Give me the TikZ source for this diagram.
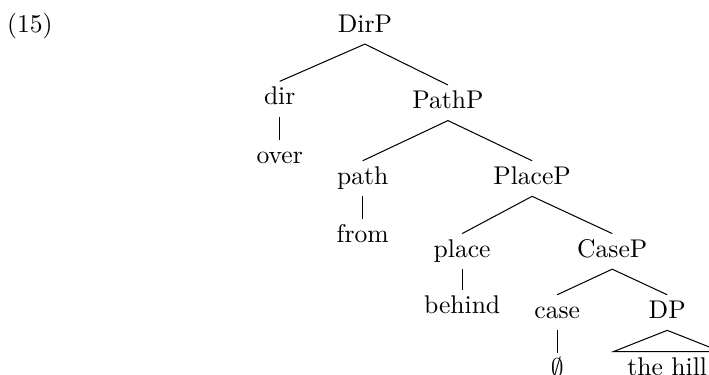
\documentclass[tikz,border=0pt]{standalone}
\usepackage{amsmath,amssymb}
\usepackage{tikz}
\usetikzlibrary{calc}

\begin{document}
\begin{tikzpicture}
            \tikzstyle{cat} = [anchor=base, inner sep=3pt, text height=6pt, text depth=1.5pt]
            \tikzstyle{roof} = [cat, inner xsep=5.2pt]
            \useasboundingbox (0,0) rectangle (9.734,-5.135);

            \node (ex) [cat] at (0.41,-0.44) {(15)};

            \node (DirP) [cat] at (5.01,-0.44) {DirP};
            \node (dir) [cat] at ($(DirP.base)+(-1.17,-1.0)$) {dir};
            \node (over) [cat] at ($(dir.base)+(0,-0.8)$) {over};
            \node (PathP) [cat] at ($(DirP.base)+(1.14,-1.05)$) {PathP};
            \draw (DirP.south) edge (dir.north);
            \draw (DirP.south) edge (PathP.north);
            \draw (dir.south) edge (over.north);

            \node (path) [cat] at ($(PathP.base)+(-1.17,-1.04)$) {path};
            \node (from) [cat] at ($(path.base)+(0,-0.8)$) {from};
            \node (PlaceP) [cat] at ($(PathP.base)+(1.155,-1.04)$) {PlaceP};
            \draw (PathP.south) edge (path.north);
            \draw (PathP.south) edge (PlaceP.north);
            \draw (path.south) edge (from.north);

            \node (place) [cat] at ($(PlaceP.base)+(-0.96,-1.0)$) {place};
            \node (behind) [cat] at ($(place.base)+(0,-0.77)$) {behind};
            \node (CaseP) [cat] at ($(PlaceP.base)+(1.1,-1.0)$) {CaseP};
            \draw (PlaceP.south) edge (place.north);
            \draw (PlaceP.south) edge (CaseP.north);
            \draw (place.south) edge (behind.north);

            \node (case) [cat] at ($(CaseP.base)+(-0.755,-0.84)$) {case};
            \node (empty) [cat] at ($(case.base)+(0,-0.8)$) {$\emptyset$};
            \node (DP) [cat] at ($(CaseP.base)+(0.755,-0.84)$) {DP};
            \node (hill) [roof] at ($(DP.base)+(0,-0.78)$) {the hill};
            \draw (CaseP.south) edge (case.north);
            \draw (CaseP.south) edge (DP.north);
            \draw (case.south) edge (empty.north);
            \draw (DP.south) -- (hill.north west) -- (hill.north east) -- cycle;
        \end{tikzpicture}
\end{document}
